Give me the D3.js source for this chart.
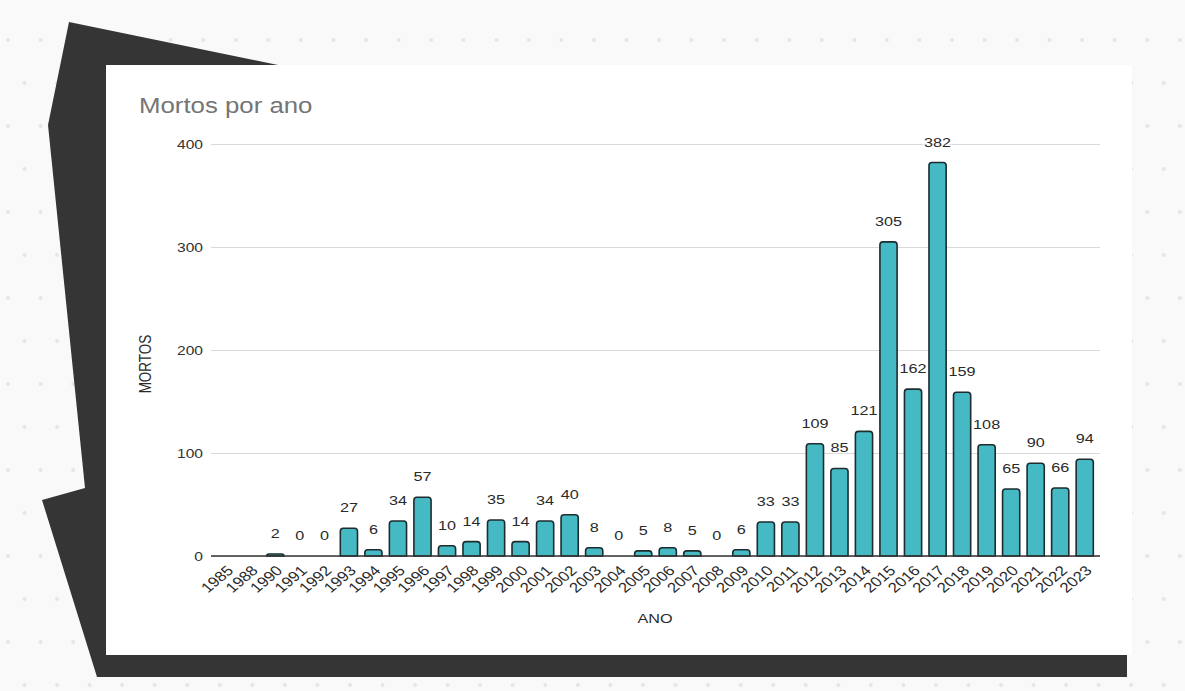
<!DOCTYPE html>
<html>
<head>
<meta charset="utf-8">
<script src="https://cdn.jsdelivr.net/npm/d3@7"></script>
<style>
  html, body { margin: 0; padding: 0; background: #f9f9f9; }
  svg { display: block; }
  text { font-family: "Liberation Sans", Arial, sans-serif; }
</style>
</head>
<body>
<svg id="chart" width="1185" height="691"></svg>
<script>
// ---- data ----
const categories = ["1985","1988","1990","1991","1992","1993","1994","1995","1996","1997","1998","1999","2000","2001","2002","2003","2004","2005","2006","2007","2008","2009","2010","2011","2012","2013","2014","2015","2016","2017","2018","2019","2020","2021","2022","2023"];
const deaths = [null,null,2,0,0,27,6,34,57,10,14,35,14,34,40,8,0,5,8,5,0,6,33,33,109,85,121,305,162,382,159,108,65,90,66,94];
const yTicks = [0,100,200,300,400];
const titleText = "Mortos por ano";
const xTitle = "ANO";
const yTitle = "MORTOS";

// ---- layout ----
const W = 1185, H = 691;
const SX = 1.2; // horizontal text stretch seen in the reference
const plot = {left: 211, right: 1100, top: 144, bottom: 556};

const svg = d3.select("#chart");

// background dots
const bg = svg.append("g");
bg.append("rect").attr("width", W).attr("height", H).attr("fill", "#f9f9f9");
const dots = [];
for (let r = -1; r < 17; r++) {
  const yy = 40 + r * 43;
  const x0 = (Math.abs(r) % 2 === 0) ? 8 : 24.5;
  for (let c = 0; c < 38; c++) dots.push([x0 + c * 32.55, yy]);
}
bg.selectAll("circle").data(dots).join("circle")
  .attr("cx", d => d[0]).attr("cy", d => d[1]).attr("r", 2)
  .attr("fill", "#e6e6e6");

// dark frame shape
svg.append("polygon")
  .attr("points", [[69,22],[278,65],[1127,65],[1127,677],[97,677],[42,500],[85,488],[48,125]].map(p => p.join(",")).join(" "))
  .attr("fill", "#353535");

// white card
svg.append("rect").attr("x", 106).attr("y", 65).attr("width", 1026).attr("height", 590).attr("fill", "#ffffff");

// title
svg.append("text")
  .attr("transform", `translate(139,113) scale(${SX},1)`)
  .attr("font-size", 21.5).attr("fill", "#757575")
  .text(titleText);

// scales
const x = d3.scaleBand().domain(categories).range([214, 1097]).paddingInner(0.3).paddingOuter(0.15);
const y = d3.scaleLinear().domain([0, 400]).range([plot.bottom, plot.top]);

// y axis + grid
const yAxis = svg.append("g").attr("transform", `translate(${plot.left},0)`)
  .call(d3.axisLeft(y).tickValues(yTicks).tickSize(-(plot.right - plot.left)).tickPadding(0));
yAxis.select(".domain").remove();
yAxis.selectAll(".tick line").attr("stroke", "#d9d9d9").attr("stroke-width", 1);
yAxis.selectAll(".tick text")
  .attr("x", 0).attr("dy", "0.35em")
  .attr("transform", `translate(-8,0) scale(${SX},1)`)
  .attr("font-size", 13).attr("fill", "#333")
  .attr("text-anchor", "end");

// bars with rounded tops
function barPath(d, i) {
  const v = deaths[i];
  const x0 = x(d), w = x.bandwidth();
  const yb = y(0), yt = y(v);
  const h = yb - yt;
  const r = Math.min(3, h, w / 2);
  return `M${x0},${yb} L${x0},${yt + r} Q${x0},${yt} ${x0 + r},${yt} L${x0 + w - r},${yt} Q${x0 + w},${yt} ${x0 + w},${yt + r} L${x0 + w},${yb} Z`;
}
svg.append("g").selectAll("path")
  .data(categories)
  .join("path")
  .filter((d, i) => deaths[i] !== null && deaths[i] > 0)
  .attr("d", (d) => barPath(d, categories.indexOf(d)))
  .attr("fill", "#46bac4")
  .attr("stroke", "#1c2c2f")
  .attr("stroke-width", 1.6);

// baseline / x axis
const xAxis = svg.append("g").attr("transform", `translate(0,${plot.bottom})`)
  .call(d3.axisBottom(x).tickSize(0).tickPadding(0));
xAxis.select(".domain").remove();
svg.append("line")
  .attr("x1", plot.left).attr("x2", plot.right)
  .attr("y1", plot.bottom).attr("y2", plot.bottom)
  .attr("stroke", "#333").attr("stroke-width", 1.3);
xAxis.selectAll(".tick text")
  .attr("x", 0).attr("y", 0).attr("dy", "0.35em")
  .attr("text-anchor", "end")
  .attr("transform", `translate(4,12) scale(${SX},1) rotate(-45)`)
  .attr("font-size", 14).attr("fill", "#2a2a2a");

// value labels (halo only where they cross grid lines)
svg.append("g").selectAll("text")
  .data(categories)
  .join("text")
  .filter((d, i) => deaths[i] !== null)
  .attr("transform", d => {
    const i = categories.indexOf(d);
    return `translate(${x(d) + x.bandwidth() / 2},${y(deaths[i]) - 16}) scale(${SX},1)`;
  })
  .attr("text-anchor", "middle")
  .attr("font-size", 13.5).attr("fill", "#2a2a2a")
  .attr("stroke", "#fff").attr("stroke-width", 2.5).attr("paint-order", "stroke")
  .text(d => deaths[categories.indexOf(d)]);

// axis titles
svg.append("text")
  .attr("transform", `translate(655,623) scale(${SX},1)`)
  .attr("text-anchor", "middle").attr("font-size", 13.5).attr("fill", "#2a2a2a")
  .text(xTitle);
svg.append("text")
  .attr("transform", `translate(151,364) scale(${SX},1) rotate(-90)`)
  .attr("text-anchor", "middle").attr("font-size", 13.5).attr("fill", "#2a2a2a")
  .text(yTitle);
</script>
</body>
</html>
